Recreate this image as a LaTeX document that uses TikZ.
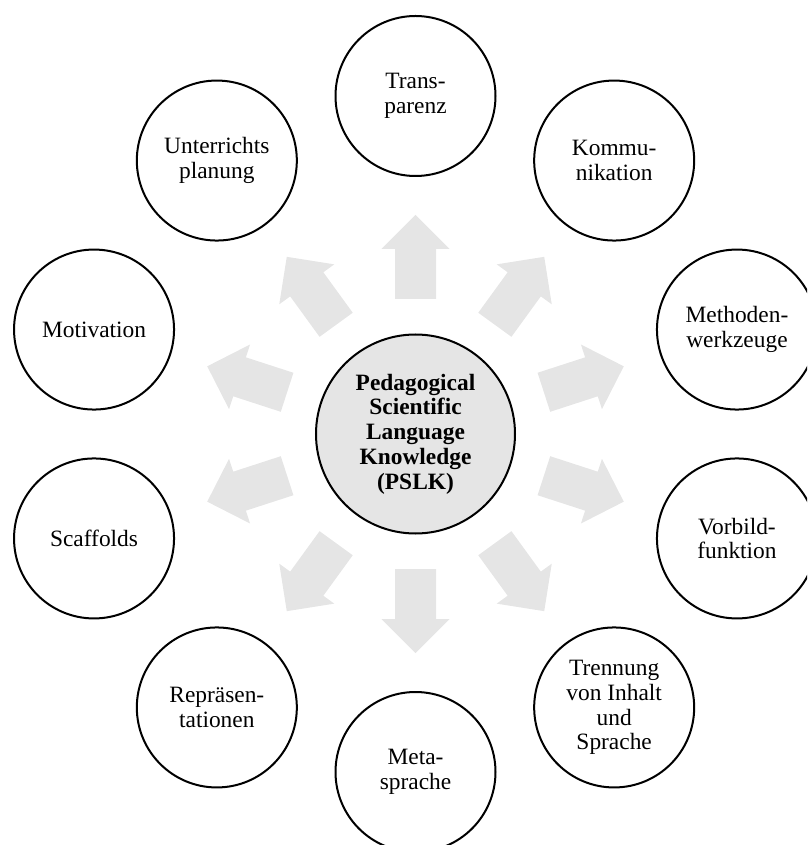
\documentclass[tikz,border=0pt]{standalone}
\usepackage{fontspec}
\setmainfont{Liberation Serif}
\begin{document}
\begin{tikzpicture}[x=1pt,y=1pt,
  topic/.style={circle, draw, line width=2pt, minimum size=160pt, inner sep=0pt,
    align=center, font=\fontsize{23.4}{24.8}\selectfont},
  core/.style={circle, draw, line width=2pt, fill=gray!20, minimum size=199pt,
    inner sep=0pt, align=center, font=\fontsize{23.4}{24.8}\selectfont\bfseries},
  spoke/.style={fill=gray!20}]
\useasboundingbox (-415.5,-411) rectangle (391.5,434);
\clip (-415.5,-411) rectangle (391.5,434);

% grey block arrows radiating from the centre
\foreach \a in {90,54,...,-234}{
  \fill[spoke, rotate=\a] (135,-20.5) -- (185,-20.5) -- (185,-34) -- (219,0)
    -- (185,34) -- (185,20.5) -- (135,20.5) -- cycle;
}

% central concept
\node[core] (pslk) at (0,0)
  {Pedagogical\\Scientific\\Language\\Knowledge\\(PSLK)};

% surrounding aspects
\node[topic] (t1)  at (90:338)   {Trans-\\parenz};
\node[topic] (t2)  at (54:338)   {Kommu-\\nikation};
\node[topic] (t3)  at (18:338)   {Methoden-\\werkzeuge};
\node[topic] (t4)  at (-18:338)  {Vorbild-\\funktion};
\node[topic] (t5)  at (-54:338)  {Trennung\\von Inhalt\\und\\Sprache};
\node[topic] (t6)  at (-90:338)  {Meta-\\sprache};
\node[topic] (t7)  at (-126:338) {Repräsen-\\tationen};
\node[topic] (t8)  at (-162:338) {Scaffolds};
\node[topic] (t9)  at (162:338)  {Motivation};
\node[topic] (t10) at (126:338)  {Unterrichts\\planung};
\end{tikzpicture}
\end{document}
